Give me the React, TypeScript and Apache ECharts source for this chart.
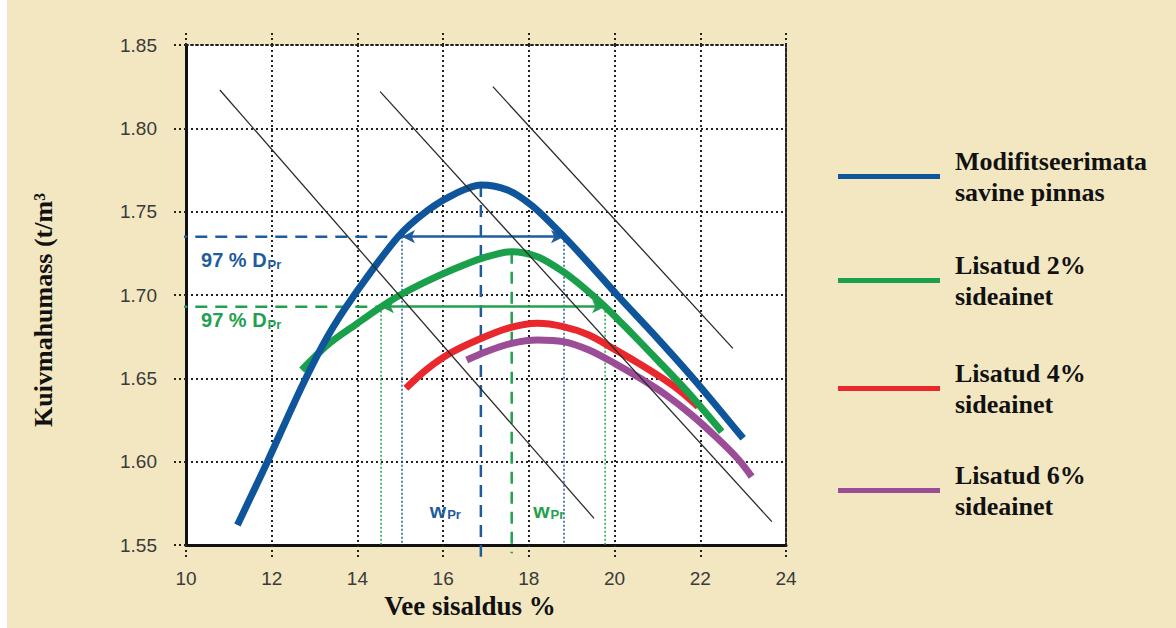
import React, { useEffect, useRef } from "react";
import * as echarts from "echarts";

// ---------- data ----------
const seriesNames = ["Modifitseerimata savine pinnas", "Lisatud 2% sideainet", "Lisatud 4% sideainet", "Lisatud 6% sideainet"];
const legendLines = [["Modifitseerimata", "savine pinnas"], ["Lisatud 2%", "sideainet"], ["Lisatud 4%", "sideainet"], ["Lisatud 6%", "sideainet"]];
const seriesColors = ["#0E559B", "#1AA04B", "#E8282C", "#9B4E97"];

const blueX = [11.2, 11.9, 12.7, 13.3, 13.9, 14.95, 15.65, 16.3, 16.88, 17.5, 18.1, 18.82, 19.4, 20.06, 21.0, 21.9, 23.0];
const blueY = [1.562, 1.600, 1.645, 1.675, 1.699, 1.735, 1.751, 1.761, 1.766, 1.763, 1.753, 1.735, 1.719, 1.700, 1.674, 1.648, 1.614];

const greenX = [12.7, 13.3, 14.0, 14.5, 15.0, 15.6, 16.2, 16.9, 17.6, 18.2, 18.8, 19.3, 19.78, 20.4, 21.0, 21.7, 22.5];
const greenY = [1.655, 1.670, 1.683, 1.692, 1.700, 1.708, 1.715, 1.722, 1.726, 1.723, 1.714, 1.704, 1.693, 1.677, 1.661, 1.642, 1.618];

const redX = [15.13, 15.6, 16.16, 16.8, 17.5, 18.2, 18.8, 19.4, 19.96, 20.5, 21.06, 21.5, 21.95];
const redY = [1.644, 1.655, 1.665, 1.673, 1.680, 1.683, 1.681, 1.676, 1.668, 1.660, 1.651, 1.643, 1.633];

const purpleX = [16.55, 17.0, 17.6, 18.2, 18.8, 19.4, 20.0, 20.6, 21.2, 21.8, 22.4, 22.9, 23.2];
const purpleY = [1.661, 1.666, 1.671, 1.673, 1.672, 1.667, 1.659, 1.650, 1.640, 1.628, 1.614, 1.601, 1.591];

// thin black diagonal lines (start / end)
const diagX = [[10.79, 19.52], [14.53, 23.67], [17.16, 22.76]];
const diagY = [[1.823, 1.566], [1.822, 1.564], [1.825, 1.668]];

// 97 % D_Pr construction values
const blueDpr = 1.735;
const blueWLeft = 15.04;
const blueWRight = 18.82;
const bluePeak = [16.88, 1.766];
const greenDpr = 1.693;
const greenWLeft = 14.55;
const greenWRight = 19.78;
const greenPeak = [17.6, 1.726];

const xMin = 10, xMax = 24, xStep = 2;
const yMin = 1.55, yMax = 1.85, yStep = 0.05;
const xTitle = "Vee sisaldus %";
const yTitle = "Kuivmahumass (t/m³";
const dprText = "97 % D";
const wText = "w";
const subText = "Pr";

const zip = (xs: number[], ys: number[]) => xs.map((x, i) => [x, ys[i]]);

const dotted = [2, 3];
const annBlue = "#1F5C9E";
const annGreen = "#22A04E";

export default function App() {
  const ref = useRef<HTMLDivElement>(null);
  useEffect(() => {
    if (!ref.current) return;
    const chart = echarts.init(ref.current, undefined, { renderer: "svg" });
    const curves = [zip(blueX, blueY), zip(greenX, greenY), zip(redX, redY), zip(purpleX, purpleY)];
    const series: any[] = [];

    // dotted thin verticals
    const thinV = (x: number, y: number, color: string) => ({
      type: "line", data: [[x, y], [x, yMin]], symbol: "none", silent: true, clip: false, z: 3,
      lineStyle: { color, width: 1.5, type: [2, 2] },
    });
    series.push(thinV(blueWLeft, blueDpr, annBlue), thinV(blueWRight, blueDpr, annBlue));
    series.push(thinV(greenWLeft, greenDpr, annGreen), thinV(greenWRight, greenDpr, annGreen));

    const subRich = (color: string) => ({
      s: { fontSize: 13, fontWeight: "bold", color, fontFamily: "Liberation Sans", padding: [9, 0, 0, 1] },
    });
    const labelPoint = (coord: number[], text: string, color: string, size: number) => ({
      coord, symbol: "circle", symbolSize: 0.01,
      label: {
        show: true, position: "right", distance: 0, formatter: text,
        color, fontSize: size, fontWeight: "bold", fontFamily: "Liberation Sans", rich: subRich(color),
      },
    });

    // dashed construction lines + arrows
    const dashedLine = (pts: number[][], color: string, extra: any = {}) => ({
      type: "line", data: pts, symbol: "none", silent: true, clip: false, z: 4,
      lineStyle: { color, width: 2.5, type: [12, 8] }, ...extra,
    });
    series.push(dashedLine([[9.75, blueDpr], [blueWLeft, blueDpr]], annBlue, {
      markLine: {
        silent: true, symbol: ["arrow", "arrow"], symbolSize: [10, 13], label: { show: false },
        lineStyle: { color: annBlue, width: 2.5, type: "solid" },
        data: [[{ coord: [blueWLeft, blueDpr] }, { coord: [blueWRight, blueDpr] }]],
      },
      markPoint: {
        silent: true,
        data: [
          labelPoint([10.35, 1.721], `${dprText}{s|${subText}}`, annBlue, 20),
          labelPoint([15.69, 1.571], `${wText}{s|${subText}}`, annBlue, 21),
        ],
      },
    }));
    series.push(dashedLine([bluePeak, [bluePeak[0], 1.543]], annBlue));
    series.push(dashedLine([[9.75, greenDpr], [greenWLeft, greenDpr]], annGreen, {
      markLine: {
        silent: true, symbol: ["arrow", "arrow"], symbolSize: [10, 13], label: { show: false },
        lineStyle: { color: annGreen, width: 2.5, type: "solid" },
        data: [[{ coord: [greenWLeft, greenDpr] }, { coord: [greenWRight, greenDpr] }]],
      },
      markPoint: {
        silent: true,
        data: [
          labelPoint([10.35, 1.685], `${dprText}{s|${subText}}`, annGreen, 20),
          labelPoint([18.1, 1.571], `${wText}{s|${subText}}`, annGreen, 21),
        ],
      },
    }));
    series.push(dashedLine([greenPeak, [greenPeak[0], 1.545]], annGreen));

    // main curves
    [3, 2, 1, 0].forEach((i) => {
      series.push({
        name: seriesNames[i], type: "line", data: curves[i], smooth: 0.3, symbol: "none", z: 5 + (3 - i),
        lineStyle: { color: seriesColors[i], width: 7, cap: "butt" },
        itemStyle: { color: seriesColors[i] },
      });
    });

    // diagonals
    diagX.forEach((xs, i) => {
      series.push({
        type: "line", data: zip(xs, diagY[i]), symbol: "none", silent: true, z: 10,
        lineStyle: { color: "#2a2a2a", width: 1.3 },
      });
    });

    const legendTops = [148, 252, 360, 462];
    const legends = seriesNames.map((n, i) => ({
      data: [n], left: 838, top: legendTops[i], orient: "vertical", icon: "rect",
      itemWidth: 102, itemHeight: 5, selectedMode: false, padding: 0,
      formatter: () => legendLines[i].map((t) => `{t|${t}}`).join("\n"),
      textStyle: {
        rich: {
          t: { fontFamily: "Liberation Serif", fontWeight: "bold", fontSize: 26, color: "#111", lineHeight: 31, padding: [0, 0, 0, 10] },
        },
      },
    }));

    const gridDot = { show: true, lineStyle: { color: "#222", width: 2, type: dotted } };
    const tickLabel = { fontFamily: "Liberation Sans", fontSize: 19, color: "#3a3a3a" };

    chart.setOption({
      animation: false,
      backgroundColor: "transparent",
      grid: { left: 186, right: 390, top: 45, bottom: 83, show: true, backgroundColor: "#ffffff", borderWidth: 0 },
      legend: legends,
      xAxis: [
        {
          type: "value", min: xMin, max: xMax, interval: xStep, position: "bottom",
          axisLine: { show: true, onZero: false, lineStyle: { color: "#111", width: 3 } },
          axisTick: { show: true, length: 13, lineStyle: { color: "#222", width: 2, type: dotted } },
          axisLabel: { ...tickLabel, margin: 24 },
          splitLine: gridDot,
          name: xTitle, nameLocation: "middle", nameGap: 46,
          nameTextStyle: { fontFamily: "Liberation Serif", fontWeight: "bold", fontSize: 27, color: "#111", padding: [0, 32, 0, 0] },
        },
        {
          type: "value", min: xMin, max: xMax, interval: xStep, position: "top",
          axisLine: { show: true, onZero: false, lineStyle: { color: "#222", width: 2, type: dotted } },
          axisTick: { show: true, length: 12, lineStyle: { color: "#222", width: 2, type: dotted } },
          axisLabel: { show: false }, splitLine: { show: false },
        },
      ],
      yAxis: [
        {
          type: "value", min: yMin, max: yMax, interval: yStep, position: "left",
          axisLine: { show: true, onZero: false, lineStyle: { color: "#111", width: 3 } },
          axisTick: { show: true, length: 15, lineStyle: { color: "#222", width: 2, type: dotted } },
          axisLabel: { ...tickLabel, margin: 29, formatter: (v: number) => v.toFixed(2) },
          splitLine: gridDot,
          name: yTitle, nameLocation: "middle", nameGap: 130, nameRotate: 90,
          nameTextStyle: { fontFamily: "Liberation Serif", fontWeight: "bold", fontSize: 26, color: "#111", padding: [0, 30, 0, 0] },
        },
        {
          type: "value", min: yMin, max: yMax, interval: yStep, position: "right",
          axisLine: { show: true, onZero: false, lineStyle: { color: "#222", width: 2, type: dotted } },
          axisTick: { show: false }, axisLabel: { show: false }, splitLine: { show: false },
        },
      ],
      series,
    });
    return () => chart.dispose();
  }, []);

  return (
    <div style={{ position: "absolute", left: 0, top: 0, width: 1176, height: 628, background: "#fff" }}>
      <div
        ref={ref}
        style={{ width: 1176, height: 628, background: "linear-gradient(to right, #fff 7px, #F2E7C1 7px)" }}
      />
    </div>
  );
}
